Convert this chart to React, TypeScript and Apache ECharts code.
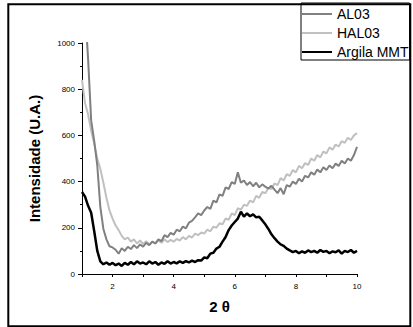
import React, { useEffect, useRef } from "react";
import * as echarts from "echarts";

const twoTheta = [
  1.0, 1.1, 1.2, 1.3, 1.4, 1.5, 1.6, 1.7, 1.8, 1.9,
  2.0, 2.1, 2.2, 2.3, 2.4, 2.5, 2.6, 2.7, 2.8, 2.9,
  3.0, 3.1, 3.2, 3.3, 3.4, 3.5, 3.6, 3.7, 3.8, 3.9,
  4.0, 4.1, 4.2, 4.3, 4.4, 4.5, 4.6, 4.7, 4.8, 4.9,
  5.0, 5.1, 5.2, 5.3, 5.4, 5.5, 5.6, 5.7, 5.8, 5.9,
  6.0, 6.1, 6.2, 6.3, 6.4, 6.5, 6.6, 6.7, 6.8, 6.9,
  7.0, 7.1, 7.2, 7.3, 7.4, 7.5, 7.6, 7.7, 7.8, 7.9,
  8.0, 8.1, 8.2, 8.3, 8.4, 8.5, 8.6, 8.7, 8.8, 8.9,
  9.0, 9.1, 9.2, 9.3, 9.4, 9.5, 9.6, 9.7, 9.8, 9.9,
  10.0,
];

const al03 = [
  1400, 1150, 930, 665, 575, 470, 290, 195, 150, 120,
  115, 105, 88, 112, 100, 118, 108, 125, 112, 128,
  118, 135, 125, 140, 132, 150, 142, 168, 160, 178,
  170, 192, 185, 205, 198, 222, 230, 245, 262, 255,
  275, 290, 282, 318, 310, 345, 338, 375, 368, 398,
  390, 440, 395, 405, 385, 398, 380, 395, 375, 388,
  378, 370, 382, 365, 350, 372, 345, 385, 378, 400,
  390, 412, 400, 425, 418, 440, 430, 452, 440, 462,
  450, 470, 458, 478, 468, 490, 478, 500, 490, 515,
  550,
];

const hal03 = [
  840, 740, 690, 620, 565, 500, 455, 395, 330, 275,
  240, 210, 190, 165, 150, 158, 140, 150, 132, 145,
  130, 142, 128, 140, 132, 145, 135, 150, 138, 148,
  140, 152, 145, 160, 150, 165, 158, 175, 168, 180,
  175, 192, 185, 205, 200, 220, 215, 240, 235, 262,
  255, 285, 278, 300, 295, 318, 310, 338, 330, 355,
  350, 372, 368, 392, 385, 415, 405, 432, 425, 450,
  440, 468, 458, 480, 472, 500, 490, 515, 505, 530,
  522, 548, 538, 560, 552, 575, 568, 590, 580, 600,
  610,
];

const argila = [
  355, 335, 295, 265, 185, 100, 55, 42, 50, 40,
  48, 38, 45, 35, 48, 40, 52, 42, 55, 45,
  50, 42, 55, 45, 52, 40, 50, 44, 55, 45,
  52, 46, 55, 48, 56, 50, 58, 52, 60, 58,
  72, 68, 88, 92, 110, 118, 140, 160, 190, 210,
  225, 240, 270, 248, 262, 250, 258, 245, 248, 232,
  215, 195, 172, 155, 140, 128, 122, 110, 102, 95,
  100, 90, 98, 92, 102, 95, 100, 92, 104, 96,
  100, 90, 98, 94, 102, 88, 100, 95, 104, 92,
  100,
];

const seriesNames = ["AL03", "HAL03", "Argila MMT"];
const seriesColors = ["#808080", "#c0c0c0", "#000000"];
const seriesWidths = [2, 2, 2.5];
const yTicks = [0, 200, 400, 600, 800, 1000];

const FONT = "'Liberation Sans', Arial, sans-serif";

export default function App() {
  const ref = useRef<HTMLDivElement>(null);
  useEffect(() => {
    if (!ref.current) return;
    const chart = echarts.init(ref.current, null, { renderer: "svg" });
    const all = [al03, hal03, argila];
    chart.setOption({
      animation: false,
      backgroundColor: "#ffffff",
      grid: { left: 82, right: 56, top: 43, bottom: 53 },
      legend: {
        left: 301,
        top: 3,
        orient: "vertical",
        data: seriesNames.map((n) => ({ name: n, icon: "rect" })),
        itemWidth: 30,
        itemHeight: 2,
        itemGap: 5,
        padding: [4, 1, 1, 1],
        borderColor: "#000",
        borderWidth: 1,
        borderRadius: 0,
        backgroundColor: "#fff",
        textStyle: { fontSize: 14, color: "#000", fontFamily: FONT },
      },
      xAxis: {
        type: "value",
        min: 1,
        max: 10,
        interval: 1,
        name: "2 θ",
        nameLocation: "middle",
        nameGap: 25,
        nameTextStyle: { fontSize: 15, fontWeight: "bold", color: "#000", fontFamily: FONT },
        axisLine: { show: true, lineStyle: { color: "#000", width: 1 } },
        axisTick: { show: true, length: 3, lineStyle: { color: "#000" } },
        axisLabel: {
          fontSize: 8,
          color: "#000",
          fontFamily: FONT,
          margin: 8,
          formatter: (v: number) => (v % 2 === 0 ? String(v) : ""),
        },
        splitLine: { show: false },
      },
      yAxis: {
        type: "value",
        min: yTicks[0],
        max: yTicks[yTicks.length - 1],
        interval: 200,
        name: "Intensidade (U.A.)",
        nameLocation: "middle",
        nameGap: 40,
        nameTextStyle: { fontSize: 15, fontWeight: "bold", color: "#000", fontFamily: FONT },
        axisLine: { show: true, lineStyle: { color: "#000", width: 1 } },
        axisTick: { show: true, length: 4, lineStyle: { color: "#000" } },
        minorTick: { show: true, splitNumber: 2, length: 2, lineStyle: { color: "#000" } },
        axisLabel: {
          fontSize: 8,
          color: "#000",
          fontFamily: FONT,
          margin: 7,
          formatter: (v: number) => String(v),
        },
        splitLine: { show: false },
      },
      graphic: [
        {
          type: "rect",
          shape: { x: 8.3, y: 4.2, width: 402, height: 322 },
          style: { fill: "none", stroke: "#000", lineWidth: 2 },
          z: 100,
          silent: true,
        },
      ],
      series: seriesNames.map((name, i) => ({
        name,
        type: "line",
        symbol: "none",
        clip: true,
        color: seriesColors[i],
        lineStyle: { color: seriesColors[i], width: seriesWidths[i] },
        data: twoTheta.map((x, j) => [x, all[i][j]]),
        z: 5 - i,
      })),
    });
    return () => chart.dispose();
  }, []);
  return (
    <div
      ref={ref}
      style={{ position: "absolute", left: 0, top: 0, width: 413, height: 327 }}
    />
  );
}
